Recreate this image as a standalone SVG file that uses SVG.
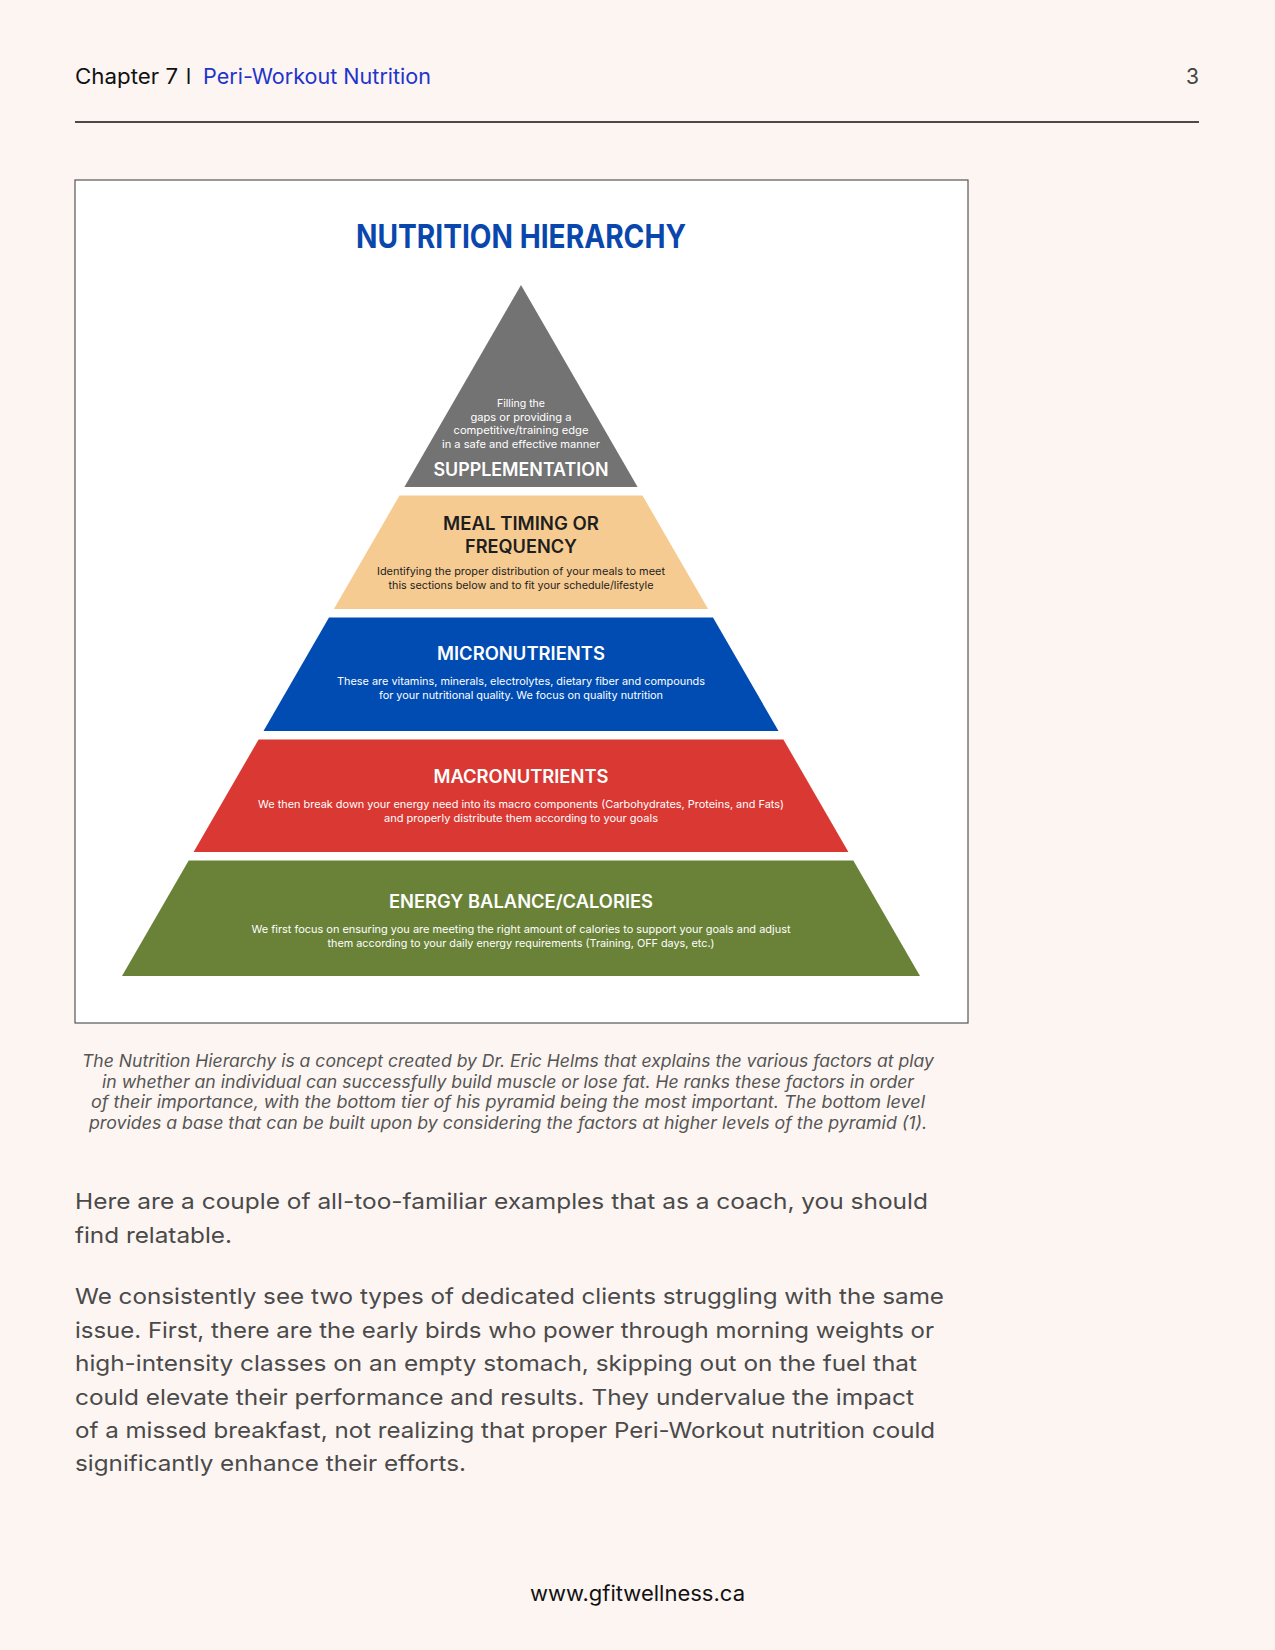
<svg xmlns="http://www.w3.org/2000/svg" width="1275" height="1650" viewBox="0 0 1275 1650">
<style>
text{font-family:Inter,"Open Sans","Liberation Sans",sans-serif}
.hd{font-size:21px}
.ti{font-size:32px;font-weight:700;fill:#0a47ad;text-anchor:middle}
.tt{font-size:18px;font-weight:600;text-anchor:middle}
.sm{font-size:10.8px;text-anchor:middle}
.w{fill:#ffffff}
.k{fill:#1e1e1e}
.cap{font-size:17px;font-style:italic;fill:#555555;text-anchor:middle}
.bd{font-size:22px;fill:#4a4a4a}
</style>
<rect width="1275" height="1650" fill="#fdf5f2"/>
<g id="header">
<text class="hd" x="75" y="84" fill="#111111" textLength="103" lengthAdjust="spacingAndGlyphs">Chapter 7</text>
<text class="hd" x="186" y="84" fill="#111111">l</text>
<text class="hd" x="203" y="84" fill="#2233cc" textLength="228" lengthAdjust="spacingAndGlyphs">Peri-Workout Nutrition</text>
<text class="hd" x="1199" y="84" fill="#444444" text-anchor="end">3</text>
<line x1="75" y1="122" x2="1199" y2="122" stroke="#111111" stroke-width="1.5"/>
</g>
<g id="figure">
<rect x="75" y="180" width="893" height="843" fill="#ffffff" stroke="#555555" stroke-width="1.2"/>
<text class="ti" x="521" y="248" textLength="330" lengthAdjust="spacingAndGlyphs">NUTRITION HIERARCHY</text>
</g>
<g id="tier-supplementation">
<polygon points="521,285 637.6,487 404.4,487" fill="#737373"/>
<text class="sm w" x="521" y="407" textLength="48" lengthAdjust="spacingAndGlyphs">Filling the</text>
<text class="sm w" x="521" y="420.5" textLength="101" lengthAdjust="spacingAndGlyphs">gaps or providing a</text>
<text class="sm w" x="521" y="434" textLength="135" lengthAdjust="spacingAndGlyphs">competitive/training edge</text>
<text class="sm w" x="521" y="448" textLength="158" lengthAdjust="spacingAndGlyphs">in a safe and effective manner</text>
<text class="tt w" x="521" y="475.5" textLength="175" lengthAdjust="spacingAndGlyphs">SUPPLEMENTATION</text>
</g>
<g id="tier-meal-timing">
<polygon points="399.5,495.5 642.5,495.5 708.1,609 333.9,609" fill="#f6cb92"/>
<text class="tt k" x="521" y="529.5" textLength="156" lengthAdjust="spacingAndGlyphs">MEAL TIMING OR</text>
<text class="tt k" x="521" y="552.5" textLength="112" lengthAdjust="spacingAndGlyphs">FREQUENCY</text>
<text class="sm k" x="521" y="575" textLength="288" lengthAdjust="spacingAndGlyphs">Identifying the proper distribution of your meals to meet</text>
<text class="sm k" x="521" y="589" textLength="265" lengthAdjust="spacingAndGlyphs">this sections below and to fit your schedule/lifestyle</text>
</g>
<g id="tier-micronutrients">
<polygon points="329,617.5 713,617.5 778.5,731 263.5,731" fill="#004cb2"/>
<text class="tt w" x="521" y="659.5" textLength="168" lengthAdjust="spacingAndGlyphs">MICRONUTRIENTS</text>
<text class="sm w" x="521" y="685" textLength="368" lengthAdjust="spacingAndGlyphs">These are vitamins, minerals, electrolytes, dietary fiber and compounds</text>
<text class="sm w" x="521" y="699" textLength="284" lengthAdjust="spacingAndGlyphs">for your nutritional quality. We focus on quality nutrition</text>
</g>
<g id="tier-macronutrients">
<polygon points="258.6,739.5 783.4,739.5 848.4,852 193.6,852" fill="#da3832"/>
<text class="tt w" x="521" y="782.5" textLength="175" lengthAdjust="spacingAndGlyphs">MACRONUTRIENTS</text>
<text class="sm w" x="521" y="808" textLength="526" lengthAdjust="spacingAndGlyphs">We then break down your energy need into its macro components (Carbohydrates, Proteins, and Fats)</text>
<text class="sm w" x="521" y="822" textLength="274" lengthAdjust="spacingAndGlyphs">and properly distribute them according to your goals</text>
</g>
<g id="tier-energy-balance">
<polygon points="188.7,860.5 853.3,860.5 920,976 122,976" fill="#6a8238"/>
<text class="tt w" x="521" y="908" textLength="264" lengthAdjust="spacingAndGlyphs">ENERGY BALANCE/CALORIES</text>
<text class="sm w" x="521" y="933" textLength="539" lengthAdjust="spacingAndGlyphs">We first focus on ensuring you are meeting the right amount of calories to support your goals and adjust</text>
<text class="sm w" x="521" y="946.5" textLength="387" lengthAdjust="spacingAndGlyphs">them according to your daily energy requirements (Training, OFF days, etc.)</text>
</g>
<g id="caption">
<text class="cap" x="508" y="1067" textLength="852" lengthAdjust="spacingAndGlyphs">The Nutrition Hierarchy is a concept created by Dr. Eric Helms that explains the various factors at play</text>
<text class="cap" x="508" y="1088" textLength="812" lengthAdjust="spacingAndGlyphs">in whether an individual can successfully build muscle or lose fat. He ranks these factors in order</text>
<text class="cap" x="508" y="1108" textLength="834" lengthAdjust="spacingAndGlyphs">of their importance, with the bottom tier of his pyramid being the most important. The bottom level</text>
<text class="cap" x="508" y="1129" textLength="838" lengthAdjust="spacingAndGlyphs">provides a base that can be built upon by considering the factors at higher levels of the pyramid (1).</text>
</g>
<g id="body">
<text class="bd" x="75" y="1209" textLength="853" lengthAdjust="spacingAndGlyphs">Here are a couple of all-too-familiar examples that as a coach, you should</text>
<text class="bd" x="75" y="1243" textLength="157" lengthAdjust="spacingAndGlyphs">find relatable.</text>
<text class="bd" x="75" y="1304" textLength="869" lengthAdjust="spacingAndGlyphs">We consistently see two types of dedicated clients struggling with the same</text>
<text class="bd" x="75" y="1338" textLength="859" lengthAdjust="spacingAndGlyphs">issue. First, there are the early birds who power through morning weights or</text>
<text class="bd" x="75" y="1371" textLength="842" lengthAdjust="spacingAndGlyphs">high-intensity classes on an empty stomach, skipping out on the fuel that</text>
<text class="bd" x="75" y="1405" textLength="839" lengthAdjust="spacingAndGlyphs">could elevate their performance and results. They undervalue the impact</text>
<text class="bd" x="75" y="1438" textLength="860" lengthAdjust="spacingAndGlyphs">of a missed breakfast, not realizing that proper Peri-Workout nutrition could</text>
<text class="bd" x="75" y="1471" textLength="391" lengthAdjust="spacingAndGlyphs">significantly enhance their efforts.</text>
</g>
<g id="footer">
<text x="637.5" y="1601" font-size="21" fill="#111111" text-anchor="middle" textLength="215" lengthAdjust="spacingAndGlyphs">www.gfitwellness.ca</text>
</g>
</svg>
